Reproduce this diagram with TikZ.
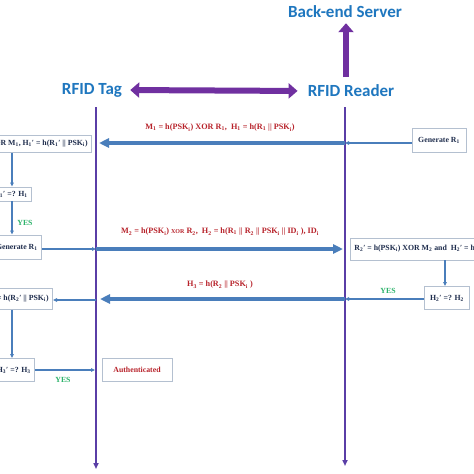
\documentclass[tikz,border=0pt]{standalone}
\usepackage{fontspec}
\setmainfont{Liberation Serif}
\newfontfamily\hdrfont{Carlito}
\usetikzlibrary{arrows.meta,calc}
\definecolor{hblue}{HTML}{1F77BF}
\definecolor{purp}{HTML}{7030A0}
\definecolor{lifec}{HTML}{5A3EA6}
\definecolor{mblue}{HTML}{4A7EBB}
\definecolor{mred}{HTML}{B8232B}
\definecolor{ygreen}{HTML}{2DB36B}
\definecolor{boxline}{HTML}{B4C0D0}
\definecolor{boxtext}{HTML}{1F2D4D}
\newcommand\sbs[1]{\textsubscript{#1}}
\newcommand\sxor{{\fontsize{6}{6}\selectfont XOR}}
\tikzset{
  hdr/.style={font=\hdrfont\bfseries\fontsize{17}{19}\selectfont, text=hblue, inner sep=2pt},
  bigarrow/.style={draw=purp, line width=6pt, -{Triangle[length=9pt,width=15pt]}},
  bigdouble/.style={draw=purp, line width=6pt, {Triangle[length=9pt,width=15pt]}-{Triangle[length=9pt,width=15pt]}},
  lifeline/.style={draw=lifec, line width=1.8pt, -{Triangle[length=6pt,width=5pt]}},
  msg/.style={draw=mblue, line width=4pt, -{Triangle[length=10pt,width=9pt]}},
  thin/.style={draw=mblue, line width=1.4pt, -{Triangle[length=4pt,width=3.5pt]}},
  msgtext/.style={font=\bfseries\fontsize{8.2}{10}\selectfont, text=mred},
  yes/.style={font=\bfseries\fontsize{7.8}{9}\selectfont, text=ygreen},
  box/.style={draw=boxline, line width=0.8pt, fill=white, font=\bfseries\fontsize{7.8}{9}\selectfont, text=boxtext, inner xsep=4pt, inner ysep=2pt},
}
\begin{document}
\begin{tikzpicture}[x=1pt,y=-1pt]
\useasboundingbox (0,0) rectangle (474,474);
\clip (0,0) rectangle (474,474);
\fill[white] (0,0) rectangle (474,474);

% headers
\node[hdr] (server) at (345,12) {Back-end Server};
\node[hdr] (tag) at (92,90) {RFID Tag};
\node[hdr] (reader) at (351,91) {RFID Reader};
\coordinate (srvbase) at (346,77);
\draw[bigarrow] (srvbase) -- ($(server.south -| srvbase)+(0,3)$);
\draw[bigdouble, shorten <=6pt, shorten >=8pt] (tag.east) -- (reader.west);

% lifelines
\coordinate (tagtop) at (96,107);
\coordinate (tagbot) at (96,469);
\coordinate (rdtop) at (345,107);
\coordinate (rdbot) at (345,466);
\draw[lifeline] (tagtop) -- (tagbot);
\draw[lifeline] (rdtop) -- (rdbot);

\coordinate (xl) at (12,0);
\coordinate (xr) at (445,0);

% message 1
\node[box, minimum width=54pt, minimum height=24pt] (gen1) at (439,140) {Generate R\sbs{1}};
\node[msgtext] (m1) at (220,128) {M\sbs{1} = h(PSK\sbs{i}) XOR R\sbs{1}, \ H\sbs{1} = h(R\sbs{1} || PSK\sbs{i})};
\coordinate (r1) at (345,143);
\coordinate (t1) at (99,143);
\draw[thin] (gen1.west |- r1) -- (r1);
\draw[msg] (r1) -- (t1);
\node[box, anchor=east, minimum height=17pt] (lb1) at (92,144) {R\sbs{1}′ = h(PSK\sbs{i}) XOR M\sbs{1}, H\sbs{1}′ = h(R\sbs{1}′ || PSK\sbs{i})};
\node[box, anchor=east, minimum height=14pt] (lb2) at (32,194) {H\sbs{1}′ =? H\sbs{1}};
\draw[thin] (lb1.south -| xl) -- (lb2.north -| xl);
\node[yes] (yes1) at (25,223) {YES};
\node[box, anchor=east, minimum height=24pt] (lb3) at (42,247) {Generate R\sbs{1}};
\draw[thin] (lb2.south -| xl) -- (lb3.north -| xl);

% message 2
\node[msgtext] (m2) at (220,232) {M\sbs{2} = h(PSK\sbs{i}) \sxor{} R\sbs{2}, \ H\sbs{2} = h(R\sbs{1} || R\sbs{2} || PSK\sbs{i} || ID\sbs{i} ), ID\sbs{i}};
\coordinate (t2) at (96,249);
\coordinate (r2) at (343,249);
\draw[thin] (lb3.east |- t2) -- (t2);
\draw[msg] (t2) -- (r2);
\node[box, anchor=west, minimum height=22pt] (rb1) at (350,249) {R\sbs{2}′ = h(PSK\sbs{i}) XOR M\sbs{2} and \ H\sbs{2}′ = h(R\sbs{1} || R\sbs{2}′ || PSK\sbs{i} || ID\sbs{i})};
\node[box, minimum width=45pt, minimum height=23pt] (rb2) at (447,298) {H\sbs{2}′ =? H\sbs{2}};
\draw[thin] (rb1.south -| xr) -- (rb2.north -| xr);
\node[yes] (yes2) at (388,291) {YES};

% message 3
\node[msgtext] (m3) at (220,285) {H\sbs{3} = h(R\sbs{2} || PSK\sbs{i} )};
\coordinate (r3) at (345,299);
\coordinate (t3) at (100,299);
\draw[thin] (rb2.west |- r3) -- (r3);
\draw[msg] (r3) -- (t3);
\node[box, anchor=east, minimum height=21pt] (lb4) at (53,299) {H\sbs{3}′ = h(R\sbs{2}′ || PSK\sbs{i})};
\coordinate (t3b) at (96,300);
\draw[thin] (t3b) -- (lb4.east |- t3b);
\node[box, anchor=east, minimum height=23pt] (lb5) at (35,370) {H\sbs{3}′ =? H\sbs{3}};
\draw[thin] (lb4.south -| xl) -- (lb5.north -| xl);
\coordinate (t4) at (95,370);
\draw[thin] (lb5.east) -- (t4);
\node[yes] (yes3) at (63,380) {YES};
\node[box, minimum width=70pt, minimum height=23pt, text=mred] (auth) at (137,370) {Authenticated};
\end{tikzpicture}
\end{document}
